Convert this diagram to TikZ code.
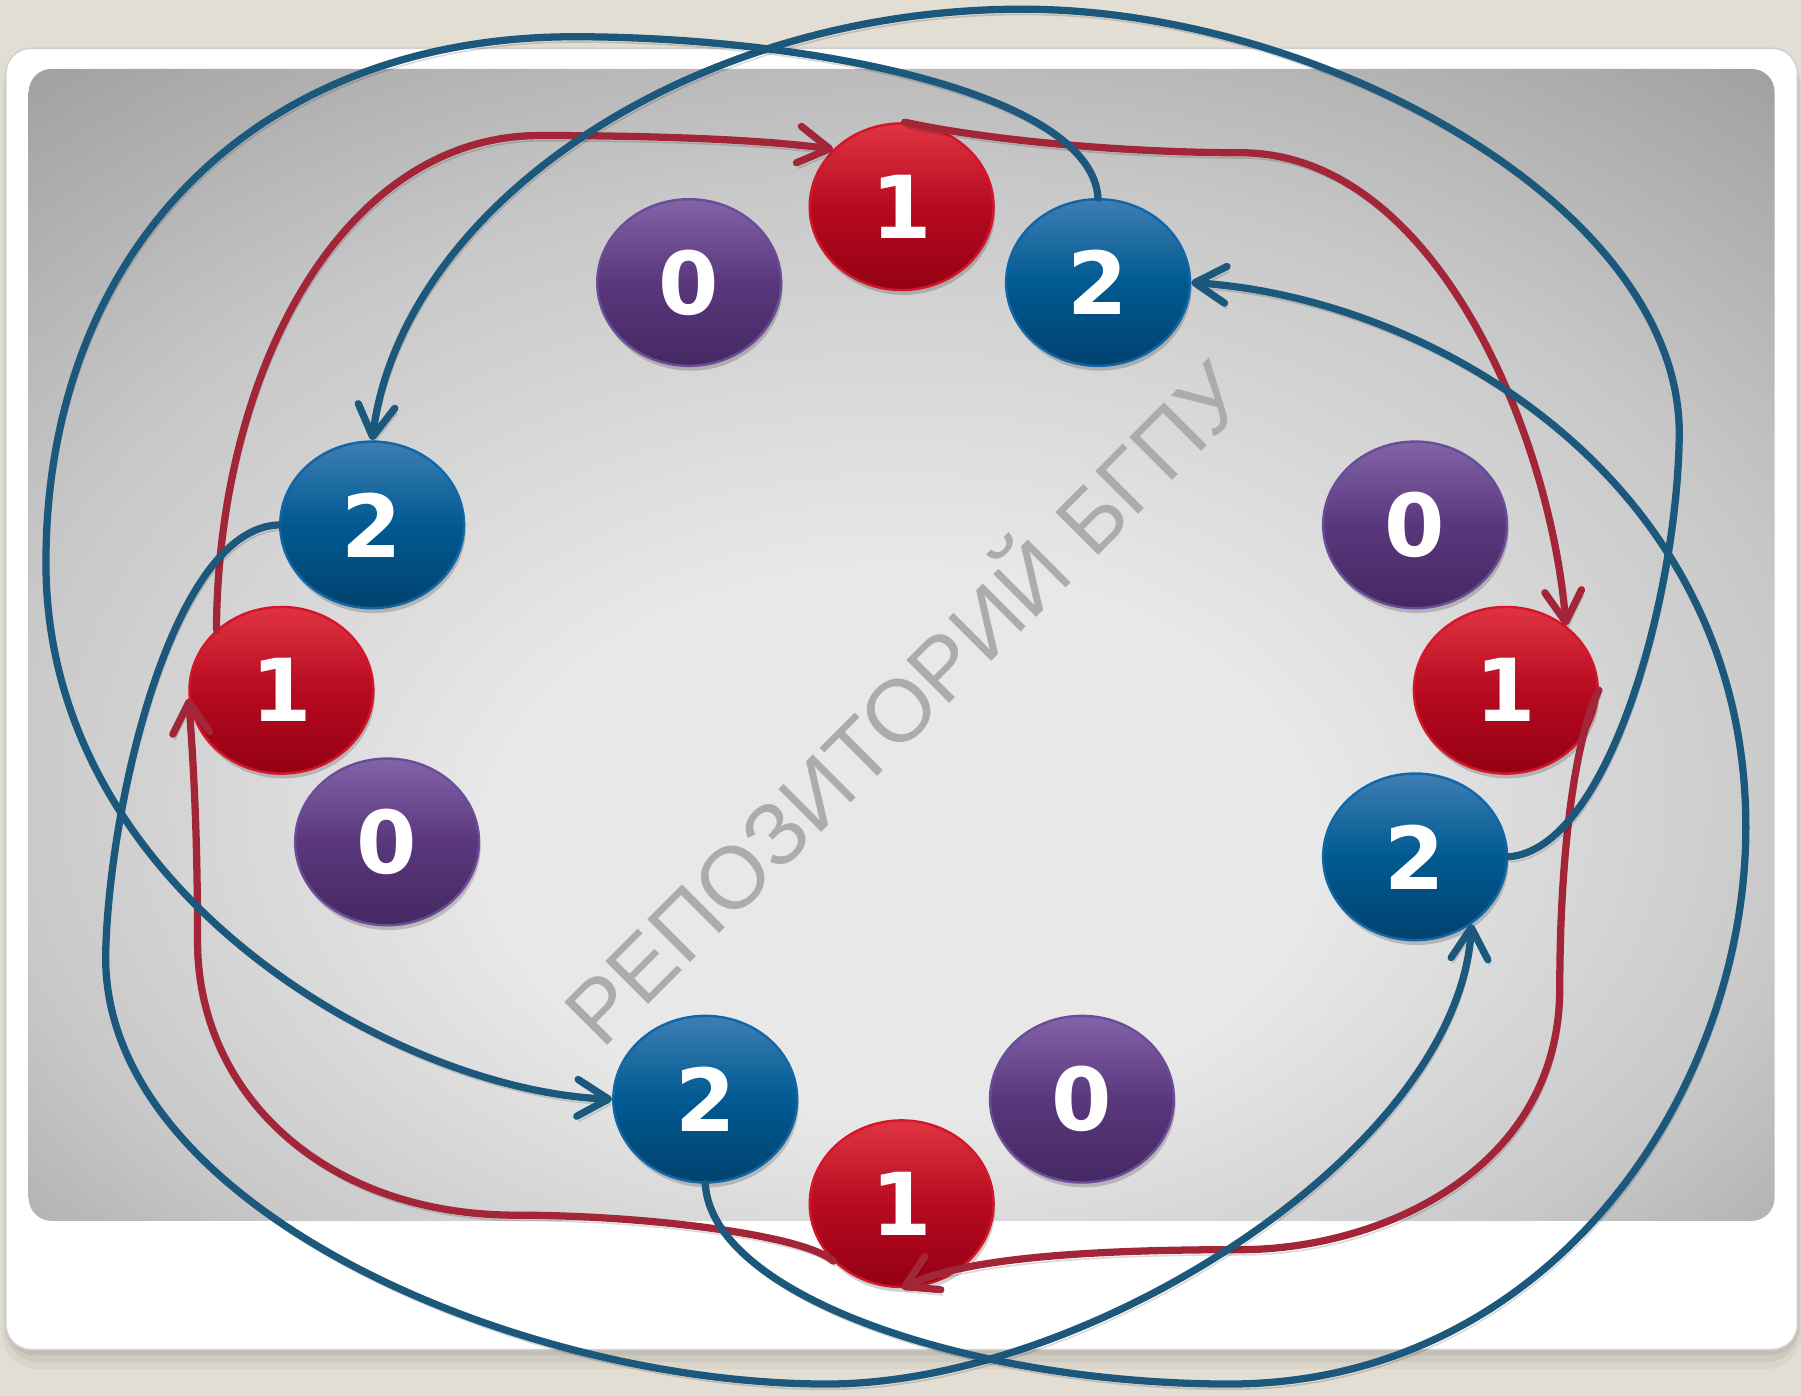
\documentclass[tikz,border=0pt]{standalone}
\usepackage{fontspec}
\newfontfamily\digitfont{DejaVu Sans}
\newfontfamily\wmfont{Liberation Sans}
\usetikzlibrary{shapes.geometric,arrows.meta,shadows}
\definecolor{beige}{RGB}{227,222,211}
\definecolor{bgA}{RGB}{232,232,232}
\definecolor{bgB}{RGB}{200,200,200}
\definecolor{bgC}{RGB}{160,160,160}
\definecolor{redL}{RGB}{162,38,56}
\definecolor{blueL}{RGB}{28,88,124}
\definecolor{redT}{RGB}{224,52,66}
\definecolor{redM}{RGB}{184,10,32}
\definecolor{redBo}{RGB}{148,0,20}
\definecolor{redE}{RGB}{212,22,42}
\definecolor{blueT}{RGB}{62,126,180}
\definecolor{blueM}{RGB}{0,90,145}
\definecolor{blueBo}{RGB}{0,66,110}
\definecolor{blueE}{RGB}{16,102,166}
\definecolor{purT}{RGB}{130,100,168}
\definecolor{purM}{RGB}{90,55,125}
\definecolor{purBo}{RGB}{68,40,98}
\definecolor{purE}{RGB}{106,76,152}
\definecolor{wmgray}{RGB}{172,172,172}
\pgfdeclareradialshading{bgshade}{\pgfpoint{0bp}{-11bp}}{color(0bp)=(bgA); color(12bp)=(bgA); color(26bp)=(bgB); color(38bp)=(bgC); color(55bp)=(bgC)}
\tikzset{
  disc/.style={ellipse, minimum width=1.6cm, minimum height=1.45cm, inner sep=0pt,
    line width=0.6pt, text=white,
    font=\digitfont\bfseries\fontsize{21.5}{21.5}\selectfont,
    drop shadow={shadow xshift=0.4pt, shadow yshift=-1.2pt, opacity=0.18, fill=black}},
  reddisc/.style={disc, draw=redE, top color=redT, bottom color=redBo, middle color=redM},
  bluedisc/.style={disc, draw=blueE, top color=blueT, bottom color=blueBo, middle color=blueM},
  purdisc/.style={disc, draw=purE, top color=purT, bottom color=purBo, middle color=purM},
  link/.style={line width=1.8pt, line cap=round,
    -{Straight Barb[length=0.27cm,width=0.32cm,round]},
    preaction={draw=black, opacity=0.15, transform canvas={xshift=0.5pt,yshift=-1.3pt}}},
  redline/.style={link, draw=redL},
  blueline/.style={link, draw=blueL}
}
\begin{document}
\begin{tikzpicture}[x=0.01cm,y=-0.01cm]
\useasboundingbox (0,0) rectangle (1568,1215.4);
\fill[beige] (0,0) rectangle (1568,1215.4);
% card shadow
\fill[black,opacity=0.04,rounded corners=0.3cm] (2,46) rectangle (1568,1192);
\fill[black,opacity=0.05,rounded corners=0.3cm] (4,46) rectangle (1567,1186);
\fill[black,opacity=0.06,rounded corners=0.25cm] (5,44) rectangle (1566,1180);
% card
\fill[white, draw=black!18, line width=0.4pt, rounded corners=0.22cm] (5,42) rectangle (1565,1175);
% gray panel
\shade[shading=bgshade, rounded corners=0.2cm] (25,60) rectangle (1545,1063);
% watermark
\node[text=wmgray, font=\wmfont\fontsize{21.8}{21.8}\selectfont, rotate=45, inner sep=0pt] (wm) at (783,608) {РЕПОЗИТОРИЙ БГПУ};
% discs
\node[purdisc] (p0t) at (600,246) {0};
\node[reddisc] (r1t) at (785,180) {1};
\node[bluedisc] (b2t) at (956,246) {2};
\node[bluedisc] (b2l) at (324,457) {2};
\node[reddisc] (r1l) at (245,601) {1};
\node[purdisc] (p0l) at (337,733) {0};
\node[purdisc] (p0r) at (1232,457) {0};
\node[reddisc] (r1r) at (1311,601) {1};
\node[bluedisc] (b2r) at (1232,746) {2};
\node[bluedisc] (b2b) at (614,957) {2};
\node[reddisc] (r1b) at (785,1048) {1};
\node[purdisc] (p0b) at (942,957) {0};
% red links
\draw[redline] (r1l.137) .. controls (190,320) and (300,118) .. (470,118)
  .. controls (560,118) and (660,121) .. (r1t.140);
\draw[redline] (r1t.88) .. controls (870,124) and (990,133) .. (1080,133)
  .. controls (1250,133) and (1350,380) .. (r1r.47);
\draw[redline] (r1r.east) .. controls (1372,640) and (1358,740) .. (1358,860)
  .. controls (1358,1020) and (1200,1088) .. (1080,1088)
  .. controls (950,1088) and (840,1095) .. (r1b.south);
\draw[redline] (r1b.220) .. controls (700,1075) and (560,1058) .. (450,1058)
  .. controls (280,1058) and (172,950) .. (172,820)
  .. controls (172,720) and (168,660) .. (r1l.185);
% blue links
\draw[blueline] (b2r.east) .. controls (1400,740) and (1460,520) .. (1462,380)
  .. controls (1465,180) and (1150,8) .. (890,8)
  .. controls (600,8) and (350,180) .. (b2l.north);
\draw[blueline] (b2l.west) .. controls (150,460) and (95,700) .. (92,830)
  .. controls (88,1050) and (450,1205) .. (720,1205)
  .. controls (950,1205) and (1270,1000) .. (b2r.310);
\draw[blueline] (b2t.north) .. controls (950,80) and (700,32) .. (500,32)
  .. controls (220,32) and (40,220) .. (40,490)
  .. controls (40,780) and (350,950) .. (b2b.west);
\draw[blueline] (b2b.south) .. controls (620,1130) and (850,1205) .. (1070,1205)
  .. controls (1350,1205) and (1520,950) .. (1520,720)
  .. controls (1520,420) and (1250,260) .. (b2t.east);
\end{tikzpicture}
\end{document}
